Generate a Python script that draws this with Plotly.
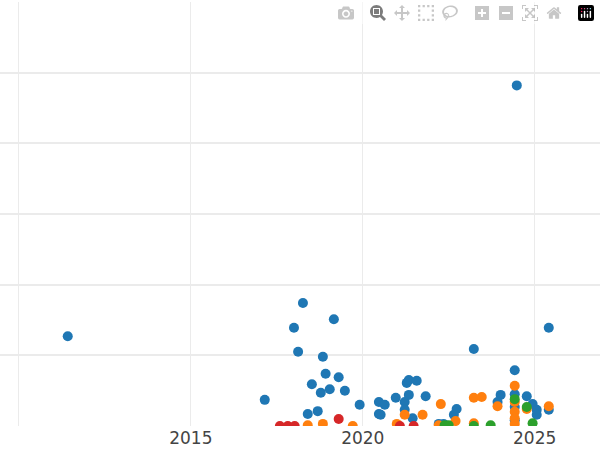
import plotly.graph_objects as go

blue_x = [2011.42,2017.15,2018.26,2018.0,2018.12,2019.16,2018.84,2018.92,2019.3,2018.52,2018.78,2019.04,2019.48,2018.4,2018.69,2019.91,2020.47,2020.47,2020.64,2020.52,2020.96,2021.22,2021.28,2021.34,2021.57,2021.34,2021.22,2021.45,2021.83,2023.23,2024.48,2025.41,2024.42,2024.01,2023.92,2024.77,2024.42,2024.42,2024.94,2025.06,2025.06,2025.41,2022.73,2022.65,2022.21,2022.35,2024.42]
blue_y = [1.27,0.37,1.74,1.39,1.05,1.51,0.98,0.74,0.69,0.59,0.47,0.52,0.50,0.17,0.21,0.30,0.34,0.17,0.30,0.16,0.40,0.34,0.61,0.65,0.64,0.44,0.23,0.11,0.42,1.09,4.82,1.39,0.79,0.44,0.34,0.42,0.27,0.45,0.31,0.23,0.16,0.23,0.24,0.16,0.03,0.03,0.08]
orange_x = [2018.4,2018.84,2019.71,2020.99,2021.22,2021.74,2022.27,2022.21,2022.7,2023.23,2023.46,2023.23,2023.92,2024.42,2024.42,2024.42,2024.42,2024.42,2024.77,2025.41]
orange_y = [0.01,0.03,0.0,0.03,0.16,0.16,0.31,0.01,0.07,0.40,0.41,0.04,0.28,0.57,0.34,0.20,0.11,0.03,0.24,0.28]
green_x = [2022.38,2022.5,2023.23,2023.72,2024.42,2024.77,2024.94]
green_y = [0.01,0.01,0.0,0.01,0.38,0.27,0.04]
red_x = [2017.59,2017.82,2018.02,2019.3,2021.08,2021.48]
red_y = [0.0,0.0,0.0,0.10,0.0,0.0]

fig = go.Figure()
for xs, ys, c in [(blue_x, blue_y, "#1f77b4"), (orange_x, orange_y, "#ff7f0e"),
                  (green_x, green_y, "#2ca02c"), (red_x, red_y, "#d62728")]:
    fig.add_trace(go.Scatter(x=xs, y=ys, mode="markers",
                             marker=dict(color=c, size=10), cliponaxis=True))

fig.update_layout(
    width=600, height=450, showlegend=False,
    paper_bgcolor="white", plot_bgcolor="white",
    margin=dict(l=0, r=0, t=2, b=24, autoexpand=False),
    font=dict(family="DejaVu Sans", size=17, color="#444"),
)
fig.update_xaxes(range=[2009.45, 2026.9], dtick=5, tick0=2010, showgrid=True,
                 gridcolor="#ebebeb", gridwidth=1, zeroline=False, showline=False,
                 ticks="")
fig.update_yaxes(range=[0, 6], dtick=1, showgrid=True, gridcolor="#ebebeb",
                 gridwidth=1.5, zeroline=False, showticklabels=False, showline=False)
fig.write_html("out.html", post_script="document.body.style.margin='0';")
